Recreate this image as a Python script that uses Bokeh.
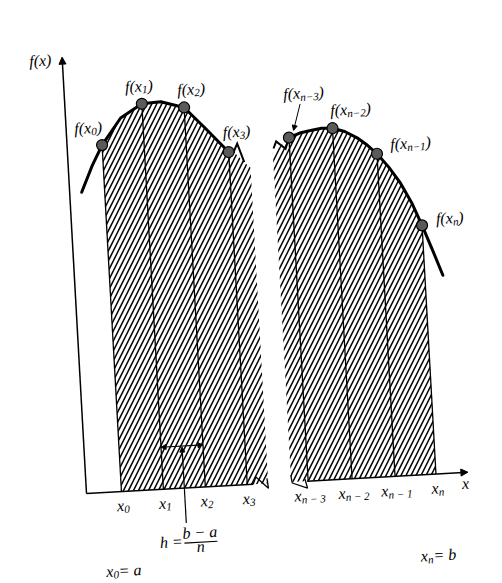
import numpy as np
from bokeh.plotting import figure
from bokeh.models import Range1d, Arrow, NormalHead, ColumnDataSource
from bokeh.core.properties import value
from bokeh.embed import file_html
from bokeh.resources import INLINE

# ---------------- data (chart units) ----------------
x_left = [35, 77, 119, 161]
f_left = [347, 386, 380, 333]
x_right = [222, 266, 309, 350]
f_right = [344, 351, 323, 249]
curve_left_x = [12, 24, 35, 55, 77, 96, 119, 139, 161, 166]
curve_left_f = [301, 327, 347, 373, 386, 387, 380, 358, 333, 333]
curve_right_x = [222, 233, 244, 255, 266, 278, 290, 300, 309, 320, 331, 341, 350, 359, 368]
curve_right_f = [344, 348, 350, 351.5, 351, 347, 340, 332, 323, 309, 292, 272, 249, 224, 198]
sub_left = ["0", "1", "2", "3"]
sub_right_tick = ["n \u2212 3", "n \u2212 2", "n \u2212 1", "n"]
sub_right_f = ["n\u22123", "n\u22122", "n\u22121", "n"]

# ---------------- layout / style ----------------
TH = np.deg2rad(3.2)          # the scanned page is slightly tilted
OX, OY = 86, 90               # page position of the axes corner
y_axis_top = 437
x_axis_end = 382
left_cut = 182
right_cut = 205
f_lab_dx_left = [-13, -2, 8, 9]
f_lab_dy_left = [17, 17, 17, 19]
f_lab_dx_right = [17, 19, 34, 28]
f_lab_dy_right = [43, 17, 8, 5]
tick_dy = -16
RAISE = 5
FONT = value("Liberation Serif")
MAIN, SUB = 16, 11
W = {"f": .278, "(": .333, ")": .333, "x": .444, "n": .5, " ": .25, "\u2212": .675,
     "=": .675, "a": .5, "b": .5, "h": .5}


def to_page(u, v):
    u = np.asarray(u, dtype=float)
    v = np.asarray(v, dtype=float)
    return (OX + u * np.cos(TH) - v * np.sin(TH),
            OY + u * np.sin(TH) + v * np.cos(TH))


def width(s, size):
    return sum(W.get(ch, .5) for ch in s) * size


main_txt = dict(u=[], v=[], text=[])
sub_txt = dict(u=[], v=[], text=[])


def add_label(parts, cu, base, raise_by=RAISE):
    """parts: list of (text, is_subscript); cu = centre, base = baseline."""
    total = sum(width(t, SUB if s else MAIN) for t, s in parts)
    u = cu - total / 2
    base = base + raise_by
    for t, s in parts:
        d = sub_txt if s else main_txt
        d["u"].append(u)
        d["v"].append(base - 4 if s else base)
        d["text"].append(t)
        u += width(t, SUB if s else MAIN)


p = figure(width=502, height=583, x_range=Range1d(0, 502), y_range=Range1d(0, 583),
           output_backend="svg", toolbar_location=None, min_border=0)
p.axis.visible = False
p.grid.visible = False
p.outline_line_color = None
p.background_fill_color = "white"

# ---------------- hatched areas ----------------
top_l = [(u, f) for u, f in zip(curve_left_x, curve_left_f) if u >= x_left[0]]
hl_u = [x_left[0], left_cut, left_cut, 176] + [u for u, _ in top_l[::-1]]
hl_v = [0, 0, 316, 322] + [f for _, f in top_l[::-1]]
xs, ys = to_page(hl_u, hl_v)
p.patch(xs, ys, fill_alpha=0, line_color=None, hatch_pattern="/", hatch_scale=10,
        hatch_weight=1.5, hatch_color="black")

top_r = [(u, f) for u, f in zip(curve_right_x, curve_right_f) if u <= x_right[-1]]
hr_u = [right_cut, right_cut] + [u for u, _ in top_r] + [x_right[-1]]
hr_v = [0, 329] + [f for _, f in top_r] + [0]
xs, ys = to_page(hr_u, hr_v)
p.patch(xs, ys, fill_alpha=0, line_color=None, hatch_pattern="/", hatch_scale=10,
        hatch_weight=1.5, hatch_color="black")

# ---------------- vertical lines at the nodes ----------------
for xn, fn in zip(x_left + x_right, f_left + f_right):
    xs, ys = to_page([xn, xn], [0, fn])
    p.line(xs, ys, line_color="black", line_width=1.3)

# ---------------- axes ----------------
xs, ys = to_page([0, 0], [0, y_axis_top])
p.add_layout(Arrow(end=NormalHead(size=7, fill_color="black", line_color="black"),
                   x_start=xs[0], y_start=ys[0], x_end=xs[1], y_end=ys[1],
                   line_width=1.5, line_color="black"))
xs, ys = to_page([0, 167], [0, 0])
p.line(xs, ys, line_color="black", line_width=1.5)
xs, ys = to_page([221, x_axis_end], [0, 0])
p.add_layout(Arrow(end=NormalHead(size=7, fill_color="black", line_color="black"),
                   x_start=xs[0], y_start=ys[0], x_end=xs[1], y_end=ys[1],
                   line_width=1.5, line_color="black"))

# break marks
for bu, bv in [([167, 170, 182, 181], [0, 7, -5, 5]),
               ([205, 206, 221, 219], [7, -1, -7, 2])]:
    xs, ys = to_page(bu, bv)
    p.line(xs, ys, line_color="black", line_width=1.3)

# ---------------- curves ----------------
xs, ys = to_page(curve_left_x, curve_left_f)
p.line(xs, ys, line_color="black", line_width=3, line_join="round", line_cap="round")
xs, ys = to_page([166, 170, 176], [333, 341, 322])
p.line(xs, ys, line_color="black", line_width=2, line_join="miter")
xs, ys = to_page(curve_right_x, curve_right_f)
p.line(xs, ys, line_color="black", line_width=3, line_join="round", line_cap="round")
xs, ys = to_page([206, 209, 218, 222], [334, 341, 333, 344])
p.line(xs, ys, line_color="black", line_width=2, line_join="miter")

# points
xs, ys = to_page(x_left + x_right, f_left + f_right)
p.scatter(xs, ys, size=11, fill_color="#5a5a5a", line_color="black", line_width=1.2)

# ---------------- h bracket ----------------
xs, ys = to_page([x_left[1], x_left[2]], [42, 42])
p.add_layout(Arrow(start=NormalHead(size=5, fill_color="black", line_color="black"),
                   end=NormalHead(size=5, fill_color="black", line_color="black"),
                   x_start=xs[0], y_start=ys[0], x_end=xs[1], y_end=ys[1],
                   line_width=1.2, line_color="black"))
xs, ys = to_page([98, 98], [-35, 41])
p.add_layout(Arrow(end=NormalHead(size=5, fill_color="black", line_color="black"),
                   x_start=xs[0], y_start=ys[0], x_end=xs[1], y_end=ys[1],
                   line_width=1.2, line_color="black"))
xs, ys = to_page([95, 128], [-55, -55])
p.line(xs, ys, line_color="black", line_width=1.2)

# f(x_{n-3}) leader
xs, ys = to_page([235, 227], [377, 351])
p.add_layout(Arrow(end=NormalHead(size=5, fill_color="black", line_color="black"),
                   x_start=xs[0], y_start=ys[0], x_end=xs[1], y_end=ys[1],
                   line_width=1.0, line_color="black"))

# ---------------- texts ----------------
for xn, fn, s, dx, dy in zip(x_left, f_left, sub_left, f_lab_dx_left, f_lab_dy_left):
    add_label([("f(x", False), (s, True), (")", False)], xn + dx, fn + dy - 4)
for xn, fn, s, dx, dy in zip(x_right, f_right, sub_right_f, f_lab_dx_right, f_lab_dy_right):
    add_label([("f(x", False), (s, True), (")", False)], xn + dx, fn + dy - 4)
for xn, s in zip(x_left + x_right, sub_left + sub_right_tick):
    add_label([("x", False), (s, True)], xn + 1, tick_dy - 3)
add_label([("f(x)", False)], -22, 430)
add_label([("x", False)], 379, -16)
add_label([("x", False), ("0", True), (" = a", False)], x_left[0], -81, raise_by=2)
add_label([("x", False), ("n", True), (" = b", False)], x_right[-1], -86)
add_label([("h =", False)], 82, -58)
add_label([("b \u2212 a", False)], 111, -50)
add_label([("n", False)], 111, -64)

for d, size in [(main_txt, MAIN), (sub_txt, SUB)]:
    xs, ys = to_page(d["u"], d["v"])
    src = ColumnDataSource(dict(x=xs, y=ys, text=d["text"]))
    p.text(x="x", y="y", text="text", source=src, angle=TH, text_font=FONT,
           text_font_style="italic", text_font_size=f"{size}px", text_color="black",
           text_align="left", text_baseline="alphabetic")

open("out.html", "w").write(file_html(p, INLINE))
